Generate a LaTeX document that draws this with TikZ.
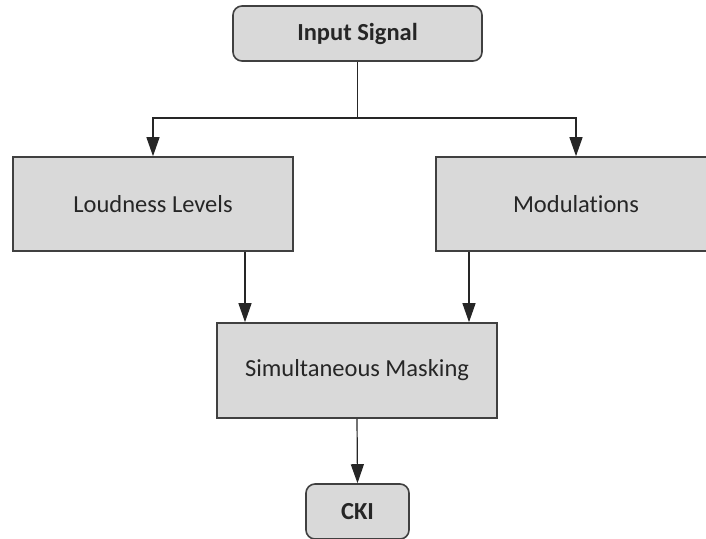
\documentclass[tikz,border=0pt]{standalone}
\usepackage{fontspec}
\setmainfont{Carlito}[Ligatures=NoCommon]
\usetikzlibrary{positioning,arrows.meta}

\begin{document}
\begin{tikzpicture}[x=1pt,y=-1pt,
  block/.style={draw=black!75,fill=black!15,line width=1.6pt,inner sep=0pt,
    minimum width=280pt,minimum height=94pt,text=black!85,
    font=\fontsize{24.5}{28}\selectfont},
  term/.style={block,rounded corners=9pt,minimum height=55pt,
    font=\bfseries\fontsize{24.5}{28}\selectfont},
  arr/.style={draw=black!85,line width=1.2pt,-{Triangle[width=13pt,length=19pt]}}]
  \useasboundingbox (0,0) rectangle (706,538);
  \clip (0,0) rectangle (706,538);
  \node[term,minimum width=249pt] (input) at (357.5,33.5) {Input Signal};
  \node[block] (loud) at (153,204) {Loudness Levels};
  \node[block] (mod) at (576,204) {Modulations};
  \node[block,minimum height=95pt] (sim) at (357,370.5) {Simultaneous Masking};
  \node[term,minimum width=103pt] (cki) at (357.5,511.5) {CKI};
  % split point and drop lines
  \coordinate (split) at (357.5,118);
  \coordinate (lx) at (245,0);
  \coordinate (mx) at (469,0);
  \draw[arr] (input.south) -- (split) -| (loud.north);
  \draw[arr] (split) -| (mod.north);
  \draw[arr] (loud.south -| lx) -- (sim.north -| lx);
  \draw[arr] (mod.south -| mx) -- (sim.north -| mx);
  \draw[arr] (sim.south) -- (cki.north);
\end{tikzpicture}
\end{document}
